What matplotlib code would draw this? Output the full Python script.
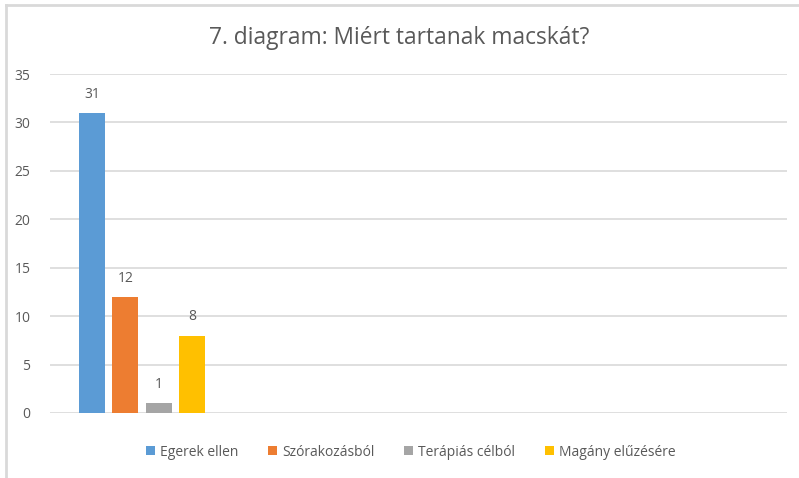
import matplotlib
matplotlib.use('Agg')
import matplotlib.pyplot as plt
from matplotlib.patches import Patch
from matplotlib.lines import Line2D

title = "7. diagram: Miért tartanak macskát?"
labels = ["Egerek ellen", "Szórakozásból", "Terápiás célból", "Magány elűzésére"]
values = [31, 12, 1, 8]
colors = ["#5b9bd5", "#ed7d31", "#a5a5a5", "#ffc000"]
yticks = [0, 5, 10, 15, 20, 25, 30, 35]

plt.rcParams['font.family'] = ['Open Sans', 'DejaVu Sans']
txt = '#595959'
grid = '#d9d9d9'

fig = plt.figure(figsize=(7.99, 4.78), dpi=100)
ax = fig.add_axes([50/799, 1 - 413/478, 737/799, 339/478])

pos = list(range(len(values)))
ax.bar(pos, values, width=0.78, color=colors, zorder=3)
for x, v in zip(pos, values):
    ax.annotate(str(v), (x, v), xytext=(0, 8), textcoords='offset points',
                ha='center', va='bottom', fontsize=10, color=txt)

ax.set_xlim(-1.257, 20.81)
ax.set_ylim(0, 35)
ax.set_yticks(yticks)
ax.set_xticks([])
ax.tick_params(axis='y', length=0, pad=14, labelsize=10, labelcolor=txt)
ax.grid(axis='y', color=grid, linewidth=1.2, zorder=0)
for s in ax.spines.values():
    s.set_visible(False)

fig.suptitle(title, x=0.5, y=1 - 38/478, va='center', fontsize=16.4, color=txt)

handles = [Patch(facecolor=c, edgecolor='none') for c in colors]
fig.legend(handles, labels, loc='center', bbox_to_anchor=(0.514, 1 - 452/478),
           ncol=4, frameon=False, fontsize=10, labelcolor=txt,
           handlelength=0.65, handleheight=0.65, handletextpad=0.4, columnspacing=2.1)

# chart border (left and top edges visible)
fig.add_artist(Line2D([6/799, 6/799], [0, 1 - 4.5/478], color=grid, linewidth=2))
fig.add_artist(Line2D([6/799, 1], [1 - 4.5/478, 1 - 4.5/478], color=grid, linewidth=2))

fig.savefig('out.png', dpi=100)
